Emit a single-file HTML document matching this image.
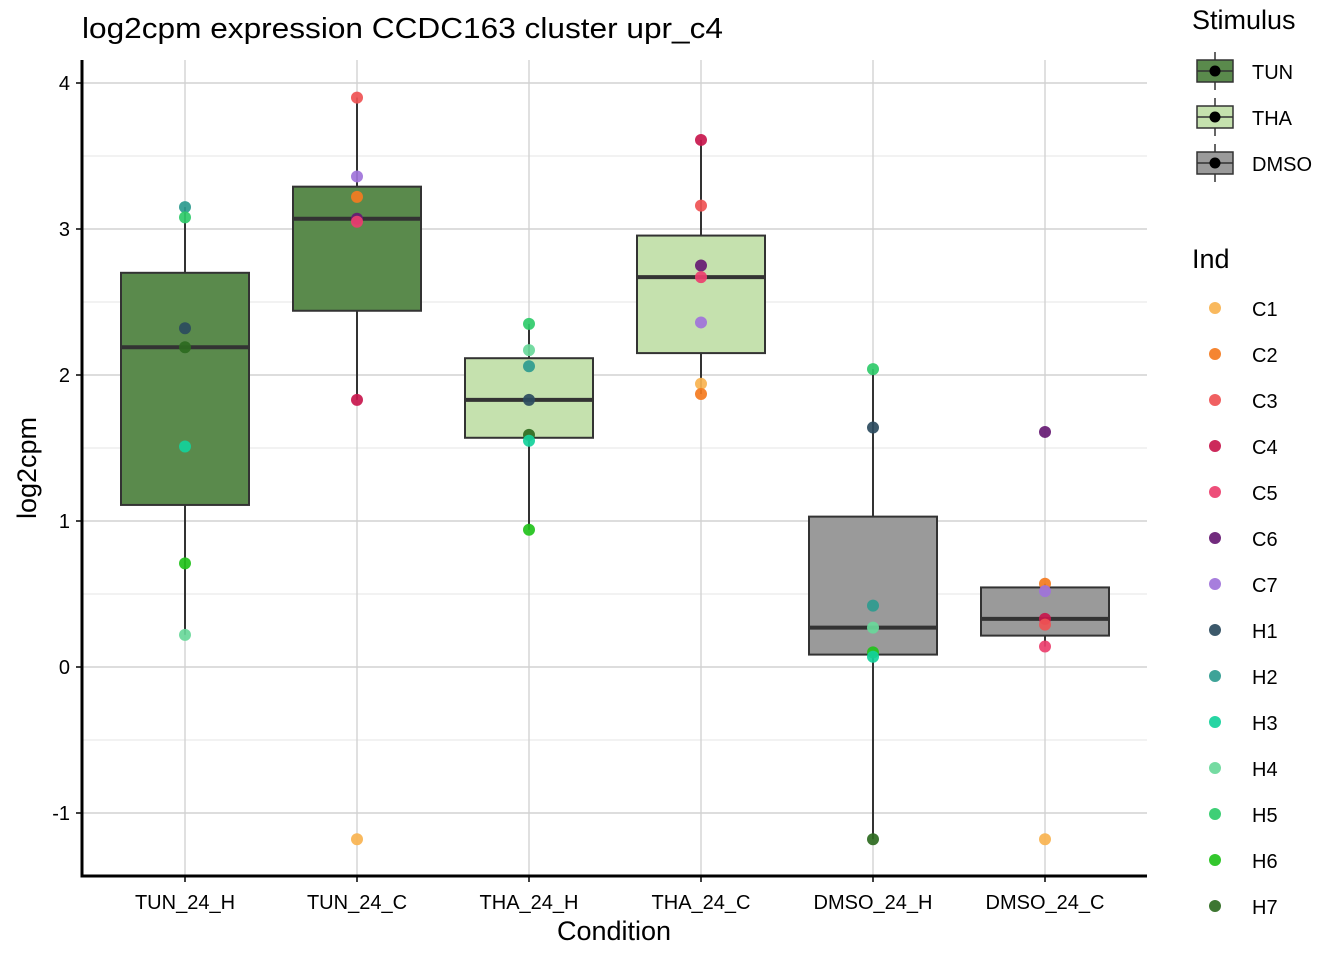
<!DOCTYPE html>
<html><head><meta charset="utf-8"><style>
body{margin:0;background:#fff;font-family:"Liberation Sans",sans-serif;}
</style></head><body>
<svg id="chart" width="1344" height="960" xmlns="http://www.w3.org/2000/svg" font-family="Liberation Sans, sans-serif">
<text x="82" y="38" font-size="29" textLength="641" lengthAdjust="spacingAndGlyphs" fill="#000">log2cpm expression CCDC163 cluster upr_c4</text>
<g id="grid"></g><g id="boxes"></g><g id="points"></g><g id="axes"></g><g id="legend"></g>
</svg>
<script>
const categories=["TUN_24_H","TUN_24_C","THA_24_H","THA_24_C","DMSO_24_H","DMSO_24_C"];
const stimulus=["TUN","TUN","THA","THA","DMSO","DMSO"];
const inds=["C1","C2","C3","C4","C5","C6","C7","H1","H2","H3","H4","H5","H6","H7"];
const indColors=["#F9B350","#F47B20","#EF5254","#C8174D","#EC3F6E","#661A73","#A073DA","#2B4B5E","#2E9B8F","#14D19B","#69D89A","#2FCB6A","#22C21B","#2D6A1F"];
const stimNames=["TUN","THA","DMSO"];
const stimColors=["#5A8A4C","#C5E1AE","#9A9A9A"];
const ptInd=[
["H2","H5","H1","H7","H3","H6","H4"],
["C3","C7","C2","C6","C5","C4","C1"],
["H5","H4","H2","H1","H7","H3","H6"],
["C4","C3","C6","C5","C7","C1","C2"],
["H5","H1","H2","H4","H6","H3","H7"],
["C6","C2","C7","C4","C3","C5","C1"]];
const ptVal=[
[3.15,3.08,2.32,2.19,1.51,0.71,0.22],
[3.90,3.36,3.22,3.07,3.05,1.83,-1.18],
[2.35,2.17,2.06,1.83,1.59,1.55,0.94],
[3.61,3.16,2.75,2.67,2.36,1.94,1.87],
[2.04,1.64,0.42,0.27,0.10,0.07,-1.18],
[1.61,0.57,0.52,0.33,0.29,0.14,-1.18]];
const yTicks=[-1,0,1,2,3,4];
const NS="http://www.w3.org/2000/svg";
const X0=82,X1=1147,Y0=60,Y1=876;
const y=v=>667-146*v;
const x=i=>185+172*i;
function mk(p,tag,at){const e=document.createElementNS(NS,tag);for(const k in at)e.setAttribute(k,at[k]);p.appendChild(e);return e;}
const grid=document.getElementById('grid');
for(let v=-1.5;v<=4;v+=0.5){if(y(v)<Y0||y(v)>Y1)continue;const l=mk(grid,'line',{x1:X0,x2:X1,y1:y(v),y2:y(v),stroke:Number.isInteger(v)?'#d2d2d2':'#e6e6e6','stroke-width':Number.isInteger(v)?1.4:1});

}
categories.forEach((c,i)=>{const l=mk(grid,'line',{x1:x(i),x2:x(i),y1:Y0,y2:Y1,stroke:'#d2d2d2','stroke-width':1.4});

});
function q(s,p){const h=(s.length-1)*p,lo=Math.floor(h);return s[lo]+(s[Math.min(lo+1,s.length-1)]-s[lo])*(h-lo);}
const boxes=document.getElementById('boxes');
categories.forEach((c,i)=>{
 const s=[...ptVal[i]].sort((a,b)=>a-b);
 const q1=q(s,.25),q3=q(s,.75),md=q(s,.5),iqr=q3-q1;
 const lo=Math.min(...s.filter(v=>v>=q1-1.5*iqr)),hi=Math.max(...s.filter(v=>v<=q3+1.5*iqr));
 const g=mk(boxes,'g',{});
 
 
 const col=stimColors[stimNames.indexOf(stimulus[i])];
 mk(g,'line',{x1:x(i),x2:x(i),y1:y(hi),y2:y(q3),stroke:'#333','stroke-width':2});
 mk(g,'line',{x1:x(i),x2:x(i),y1:y(q1),y2:y(lo),stroke:'#333','stroke-width':2});
 mk(g,'rect',{x:x(i)-64,y:y(q3),width:128,height:y(q1)-y(q3),fill:col,stroke:'#333','stroke-width':2});
 mk(g,'line',{x1:x(i)-64,x2:x(i)+64,y1:y(md),y2:y(md),stroke:'#333','stroke-width':4});
});
const pts=document.getElementById('points');
ptVal.forEach((arr,i)=>arr.forEach((v,j)=>{
 const c=mk(pts,'circle',{cx:x(i),cy:y(v),r:6,fill:indColors[inds.indexOf(ptInd[i][j])],'fill-opacity':0.92});
 
 
}));
const ax=document.getElementById('axes');
const ya=mk(ax,'line',{x1:X0,x2:X0,y1:Y0,y2:Y1+1.5,stroke:'#000','stroke-width':3});


const xa=mk(ax,'line',{x1:X0-1.5,x2:X1,y1:Y1,y2:Y1,stroke:'#000','stroke-width':3});


yTicks.forEach(v=>{mk(ax,'line',{x1:X0-6,x2:X0,y1:y(v),y2:y(v),stroke:'#000','stroke-width':1.5});
 const t=mk(ax,'text',{x:X0-12,y:y(v)+7,'text-anchor':'end','font-size':20,fill:'#000'});t.textContent=v;
 
 });
categories.forEach((c,i)=>{mk(ax,'line',{x1:x(i),x2:x(i),y1:Y1,y2:Y1+6,stroke:'#000','stroke-width':1.5});
 const t=mk(ax,'text',{x:x(i),y:909,'text-anchor':'middle','font-size':20,fill:'#000'});t.textContent=c;
 
 });
const xt=mk(ax,'text',{x:614,y:940,'text-anchor':'middle','font-size':27});xt.textContent='Condition';


const yt=mk(ax,'text',{x:36,y:468,'text-anchor':'middle','font-size':27,transform:'rotate(-90 36 468)'});yt.textContent='log2cpm';


const lg=document.getElementById('legend');
let t=mk(lg,'text',{x:1192,y:29,'font-size':27});t.textContent='Stimulus';


stimNames.forEach((s,i)=>{const cy=71+46*i;const g=mk(lg,'g',{});
 
 
 mk(g,'line',{x1:1215,x2:1215,y1:cy-19,y2:cy+19,stroke:'#333','stroke-width':1.5});
 mk(g,'rect',{x:1197,y:cy-11,width:36,height:22,fill:stimColors[i],stroke:'#333','stroke-width':1.5});
 mk(g,'line',{x1:1197,x2:1233,y1:cy,y2:cy,stroke:'#333','stroke-width':1.5});
 mk(g,'circle',{cx:1215,cy:cy,r:5.5,fill:'#000'});
 const tt=mk(g,'text',{x:1252,y:cy+8,'font-size':20});tt.textContent=s;});
t=mk(lg,'text',{x:1192,y:268,'font-size':27});t.textContent='Ind';


inds.forEach((s,i)=>{const cy=308+46*i;const g=mk(lg,'g',{});
 
 
 mk(g,'circle',{cx:1215,cy:cy,r:6,fill:indColors[i],'fill-opacity':0.92});
 const tt=mk(g,'text',{x:1252,y:cy+8,'font-size':20});tt.textContent=s;});
</script>
</body></html>
